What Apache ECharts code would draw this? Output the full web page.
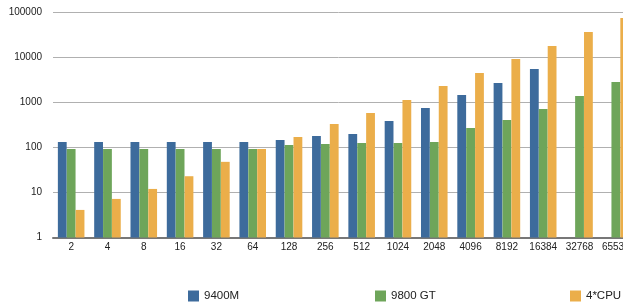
<!DOCTYPE html>
<html><head><meta charset="utf-8">
<script src="https://cdn.jsdelivr.net/npm/echarts@6/dist/echarts.min.js"></script>
<style>html,body{margin:0;padding:0;background:#fff}#c{width:623px;height:302px}</style>
</head><body><div id="c"></div>
<script>
const categories = ['2','4','8','16','32','64','128','256','512','1024','2048','4096','8192','16384','32768','65536'];
const s9400M = [132,132,132,132,132,132,147,180,200,388,755,1468,2712,5546,null,null];
const s9800GT = [93,93,93,93,93,93,113,120,126,126,132,271,408,717,1394,2857];
const sCPU = [4.1,7.2,12,23,48,93,171,333,585,1136,2326,4525,9260,18020,36870,75430];
const seriesNames = ['9400M','9800 GT','4*CPU'];
const colors = ['#3d6b9c','#6ea55a','#ebae4a'];

const chart = echarts.init(document.getElementById('c'));
const font = 'Liberation Sans, Helvetica, Arial, sans-serif';
const legendLefts = [188, 375, 570];
chart.setOption({
  animation:false,
  color: colors,
  textStyle:{fontFamily:font},
  legend: seriesNames.map((n,i)=>({
    left:legendLefts[i], top:290, itemWidth:11, itemHeight:11,
    icon:'rect', selectedMode:false, padding:0, itemGap:0,
    textStyle:{fontFamily:font,fontSize:11.5,color:'#222'},
    data:[n]
  })),
  grid:{left:53, width:581, top:12.5, height:225, containLabel:false, outerBoundsMode:'none'},
  xAxis:{
    type:'category', data:categories,
    axisLine:{show:true,lineStyle:{color:'#777',width:2}},
    axisTick:{show:false},
    axisLabel:{fontFamily:font,fontSize:10,color:'#222',margin:5,interval:0}
  },
  yAxis:{
    type:'log', logBase:10, min:1, max:100000,
    axisLine:{show:false}, axisTick:{show:false},
    axisLabel:{fontFamily:font,fontSize:10,color:'#222',margin:11,formatter:v=>String(Math.round(v))},
    splitLine:{show:true,lineStyle:{color:'#b0b0b0',width:1}}
  },
  series:[
    {name:seriesNames[0],type:'bar',data:s9400M,barWidth:8.8,barGap:'1%'},
    {name:seriesNames[1],type:'bar',data:s9800GT,barWidth:8.8,barGap:'1%'},
    {name:seriesNames[2],type:'bar',data:sCPU,barWidth:8.8,barGap:'1%'}
  ]
});
</script></body></html>
